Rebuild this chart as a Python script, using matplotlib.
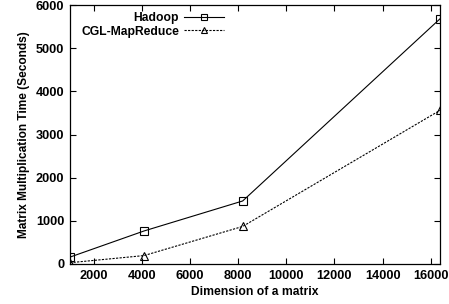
import matplotlib
matplotlib.use("Agg")
import matplotlib.pyplot as plt

dims = [1024, 4096, 8192, 16384]
hadoop = [160, 765, 1460, 5680]
cgl = [30, 195, 870, 3560]
xticks = [2000, 4000, 6000, 8000, 10000, 12000, 14000, 16000]
yticks = [0, 1000, 2000, 3000, 4000, 5000, 6000]

plt.rcParams['font.family'] = ['Liberation Sans', 'DejaVu Sans']
plt.rcParams['font.weight'] = 'bold'

fig = plt.figure(figsize=(4.49, 3.04), dpi=100)
ax = fig.add_axes([70/449, 1-264/304, 370/449, 259/304])

ax.plot(dims, hadoop, color='black', lw=0.8, marker='s', ms=5.5,
        mfc='none', mec='black', mew=0.8, label='Hadoop')
ax.plot(dims, cgl, color='black', lw=0.8, ls=(0, (2, 1.2)), marker='^', ms=5.5,
        mfc='none', mec='black', mew=0.8, label='CGL-MapReduce')

ax.set_xlim(1024, 16384)
ax.set_ylim(0, 6000)
ax.set_xticks(xticks)
ax.set_yticks(yticks)
ax.tick_params(direction='in', length=4, width=0.8, top=True, right=True,
               labelsize=9.2, pad=4)
for lab in ax.get_xticklabels() + ax.get_yticklabels():
    lab.set_fontweight('bold')
for s in ax.spines.values():
    s.set_linewidth(0.9)

ax.set_xlabel('Dimension of a matrix', fontsize=8.7, fontweight='bold', labelpad=3)
ax.set_ylabel('Matrix Multiplication Time (Seconds)', fontsize=8.6, fontweight='bold', labelpad=4)

leg = ax.legend(loc='upper right', bbox_to_anchor=(0.435, 1.0), frameon=False,
                markerfirst=False, fontsize=8.7, handlelength=3.3, markerscale=0.7,
                handletextpad=0.4, labelspacing=0.12, borderaxespad=0.2)
for t in leg.get_texts():
    t.set_fontweight('bold')

fig.savefig('out.png', dpi=100)
